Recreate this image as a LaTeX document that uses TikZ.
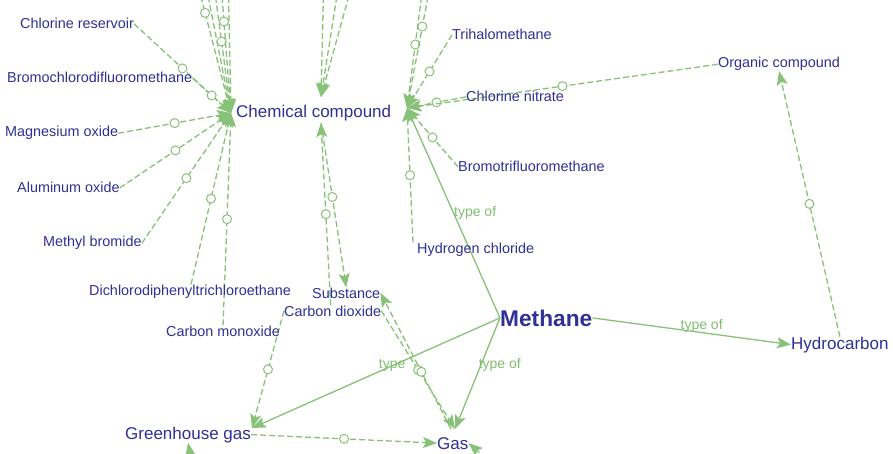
\documentclass[tikz,border=0pt]{standalone}
\usepackage{fontspec}
\setmainfont{Liberation Sans}
\usetikzlibrary{arrows.meta}
\pgfdeclarelayer{background}
\pgfsetlayers{background,main}
\definecolor{nodeblue}{RGB}{48,48,150}
\definecolor{edgegreen}{RGB}{136,194,120}
\definecolor{labelgreen}{RGB}{128,190,112}

\begin{document}
\begin{tikzpicture}[x=1pt,y=-1pt,
  term/.style={text=nodeblue, inner sep=0pt, anchor=base west,
    font=\fontsize{14.4}{17}\selectfont},
  bigterm/.style={term, font=\fontsize{17}{20}\selectfont},
  mainterm/.style={term, font=\fontsize{22.7}{26}\selectfont\bfseries},
  rel/.style={draw=edgegreen, line width=1.3pt,
    -{Stealth[length=14pt,width=11pt,inset=3pt]}},
  link/.style={rel, dash pattern=on 6pt off 3pt},
  ring/.style={circle, draw=edgegreen, fill=white, solid, line width=1pt,
    minimum size=9pt, inner sep=0pt},
  edgetext/.style={text=labelgreen, inner sep=0pt,
    font=\fontsize{14}{16}\selectfont}
]
\useasboundingbox (0,0) rectangle (893,454);

% terms
\node[term]    (crs)  at (20,29)   {Chlorine reservoir};
\node[term]    (bcd)  at (7,83)    {Bromochlorodifluoromethane};
\node[term]    (mgo)  at (5,137)   {Magnesium oxide};
\node[term]    (alo)  at (17,193)  {Aluminum oxide};
\node[term]    (mbr)  at (43,247)  {Methyl bromide};
\node[term]    (ddt)  at (89,295)  {Dichlorodiphenyltrichloroethane};
\node[term]    (cmo)  at (166,336) {Carbon monoxide};
\node[bigterm] (chem) at (236,118) {Chemical compound};
\node[term]    (thm)  at (452,40)  {Trihalomethane};
\node[term]    (cln)  at (466,102) {Chlorine nitrate};
\node[term]    (org)  at (718,68)  {Organic compound};
\node[term]    (btf)  at (458,172) {Bromotrifluoromethane};
\node[term]    (hcl)  at (417,253) {Hydrogen chloride};
\node[term]    (sub)  at (312,298) {Substance};
\node[term]    (cdo)  at (284,316) {Carbon dioxide};
\node[mainterm](meth) at (500,326) {Methane};
\node[bigterm] (hyd)  at (791,349) {Hydrocarbon};
\node[bigterm] (ghg)  at (125,439) {Greenhouse gas};
\node[bigterm] (gas)  at (437,449) {Gas};

% meeting points of the arrow tips
\coordinate (hubL) at (231,113);
\coordinate (hubR) at (407,108);
\coordinate (ccT)  at (321,97);
\coordinate (ccB)  at (321,123);
\coordinate (gasT) at (455,429);
\coordinate (ghgR) at (252,428);

% loose ends of links leaving the frame
\coordinate (topL1) at (194,-30);
\coordinate (topL2) at (203,-30);
\coordinate (topL3) at (212,-30);
\coordinate (topL4) at (220,-30);
\coordinate (topL5) at (228,-30);
\coordinate (topC1) at (324,-30);
\coordinate (topC2) at (341,-30);
\coordinate (topC3) at (356,-30);
\coordinate (topR1) at (425,-30);
\coordinate (topR2) at (433,-30);
\coordinate (botG)  at (194,475);
\coordinate (botS)  at (500,470);

\begin{pgfonlayer}{background}
  \fill[white] (0,0) rectangle (893,454);
  \clip (0,0) rectangle (893,454);
  % links into the left side of "Chemical compound"
  \draw[link] (crs.east) -- node[ring]{} (hubL);
  \draw[link] (bcd.east) -- node[ring]{} (hubL);
  \draw[link] (mgo.east) -- node[ring]{} (hubL);
  \draw[link] (alo.east) -- node[ring]{} (hubL);
  \draw[link] (mbr.east) -- node[ring]{} (hubL);
  \draw[link] ([xshift=1pt]ddt.north) -- node[ring]{} (hubL);
  \draw[link] (cmo.north) -- node[ring]{} (hubL);
  \draw[link] (topL1) -- node[ring,pos=0.3]{} (hubL);
  \draw[link] (topL2) -- (hubL);
  \draw[link] (topL3) -- node[ring,pos=0.5]{} (hubL);
  \draw[link] (topL4) -- node[ring,pos=0.36]{} (hubL);
  \draw[link] (topL5) -- (hubL);

  % links into the top and bottom of "Chemical compound"
  \draw[link] (topC1) -- (ccT);
  \draw[link] (topC2) -- (ccT);
  \draw[link] (topC3) -- (ccT);
  \draw[link] ([xshift=-2pt]cdo.north) -- node[ring]{} (ccB);
  \draw[link] (ccB) -- node[ring,pos=0.45]{} (sub.north);

  % links into the right side of "Chemical compound"
  \draw[link] (topR1) -- node[ring,pos=0.54]{} (hubR);
  \draw[link] (topR2) -- node[ring,pos=0.41]{} (hubR);
  \draw[link] (thm.west) -- node[ring]{} (hubR);
  \draw[link] (cln.west) -- node[ring]{} (hubR);
  \draw[link] (org.west) -- node[ring]{} (hubR);
  \draw[link] (btf.west) -- node[ring]{} (hubR);
  \draw[link] ([xshift=-4pt]hcl.north west) -- node[ring]{} (hubR);

  % lower links
  \draw[link] (cdo.west) -- node[ring]{} (ghgR);
  \draw[link] (cdo.east) -- node[ring]{} (gasT);
  \draw[link] ([xshift=-4pt]gasT) -- node[ring,pos=0.42]{} (sub.east);
  \draw[link] (ghg.east) -- node[ring]{} (gas.west);
  \draw[link] (hyd.north) -- node[ring]{} (org.south);
  \draw[link] (botG) -- (ghg.south);
  \draw[link] (botS) -- (gas.east);

  % "type of" relations of Methane
  \draw[rel] (meth.west) -- node[edgetext,pos=0.5,anchor=west]{type of} (hubR);
  \draw[rel] (meth.east) -- node[edgetext,pos=0.55,above]{type of} (hyd.west);
  \draw[rel] (meth.west) -- node[edgetext,pos=0.42,anchor=west,xshift=-3pt]{type of} (gasT);
  \draw[rel] (meth.west) -- node[edgetext,pos=0.435]{type} (ghgR);
\end{pgfonlayer}
\end{tikzpicture}
\end{document}
